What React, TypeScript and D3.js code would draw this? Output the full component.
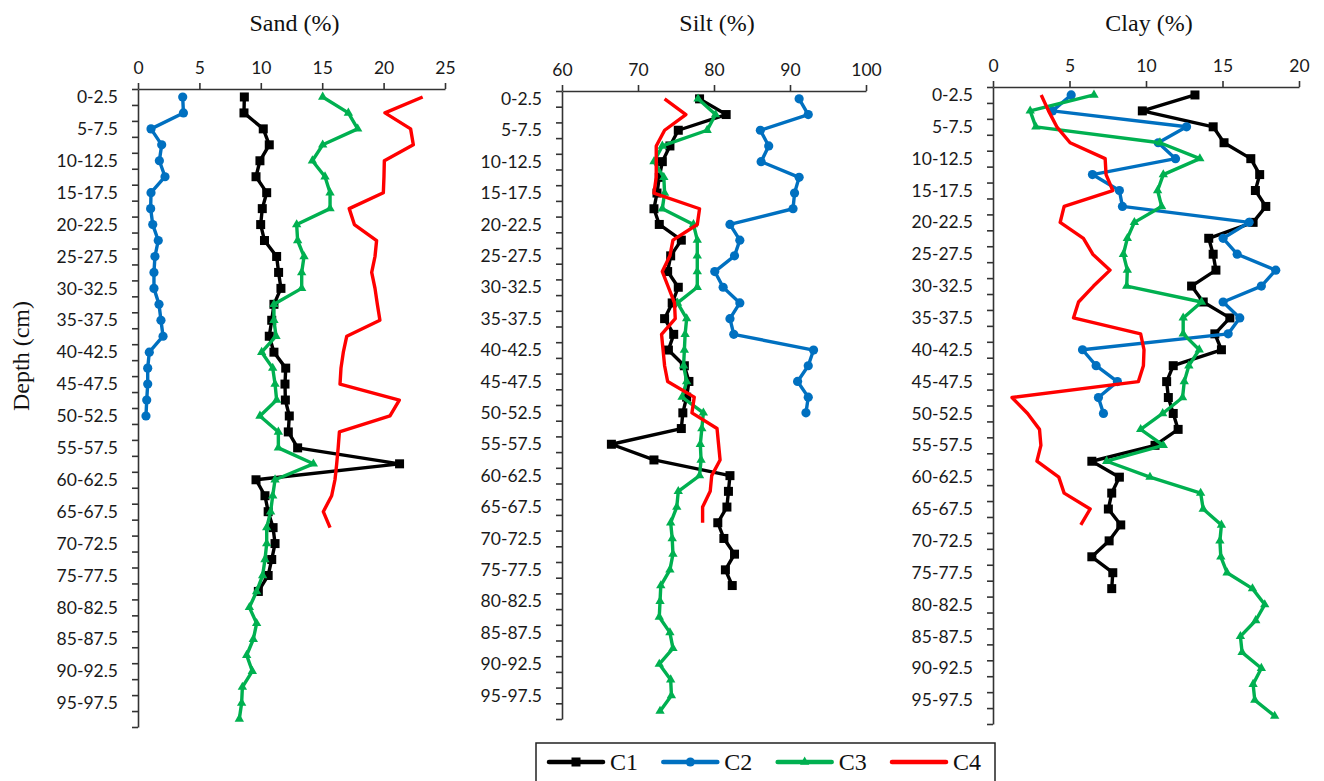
import { useEffect, useRef } from "react";
import * as d3 from "d3";

// depth intervals (cm), one per 2.5 cm sample
const depthLabels = [
  "0-2.5", "2.5-5", "5-7.5", "7.5-10", "10-12.5", "12.5-15", "15-17.5", "17.5-20",
  "20-22.5", "22.5-25", "25-27.5", "27.5-30", "30-32.5", "32.5-35", "35-37.5", "37.5-40",
  "40-42.5", "42.5-45", "45-47.5", "47.5-50", "50-52.5", "52.5-55", "55-57.5", "57.5-60",
  "60-62.5", "62.5-65", "65-67.5", "67.5-70", "70-72.5", "72.5-75", "75-77.5", "77.5-80",
  "80-82.5", "82.5-85", "85-87.5", "87.5-90", "90-92.5", "92.5-95", "95-97.5", "97.5-100",
];
const depthBounds = [0, 100];
const depthTickStep = 2.5;

const seriesNames = ["C1", "C2", "C3", "C4"];

const sandC1 = [8.66, 8.63, 10.2, 10.69, 9.93, 9.61, 10.48, 10.12, 9.99, 10.3, 11.29, 11.45, 11.64, 11.07, 10.89, 10.69, 11.07, 12.03, 11.97, 12.0, 12.32, 12.24, 13.0, 21.3, 9.61, 10.34, 10.6, 11.0, 11.16, 10.89, 10.6, 9.8];
const sandC2 = [3.64, 3.7, 1.06, 1.93, 1.74, 2.2, 1.06, 1.03, 1.2, 1.65, 1.38, 1.3, 1.3, 1.71, 1.87, 2.04, 0.92, 0.79, 0.79, 0.71, 0.65];
const sandC3 = [15.04, 17.13, 17.89, 15.04, 14.2, 15.23, 15.64, 15.64, 12.92, 13.0, 13.52, 13.33, 13.33, 11.07, 11.07, 11.24, 10.07, 10.97, 11.16, 11.29, 9.93, 11.43, 11.43, 14.28, 11.16, 10.97, 10.8, 10.48, 10.48, 10.34, 10.15, 9.66, 9.07, 9.66, 9.39, 8.85, 9.31, 8.5, 8.44, 8.25];
const sandC4 = [23.18, 20.11, 22.2, 22.42, 20.06, 20.03, 19.98, 17.2, 17.62, 19.43, 19.3, 19.03, 19.3, 19.49, 19.7, 17.0, 16.72, 16.53, 16.45, 21.28, 20.52, 16.4, 16.3, 16.18, 16.04, 15.77, 15.09, 15.64];

const siltC1 = [78.1, 81.6, 75.3, 74.2, 73.2, 72.8, 72.5, 72.1, 72.8, 75.7, 74.3, 73.9, 75.3, 74.5, 73.5, 74.7, 74.0, 76.1, 76.7, 76.4, 75.9, 75.7, 66.5, 72.1, 82.1, 81.9, 81.7, 80.5, 81.3, 82.7, 81.5, 82.4];
const siltC2 = [91.2, 92.4, 86.1, 87.2, 86.2, 91.2, 90.6, 90.4, 82.1, 83.4, 82.7, 80.1, 81.2, 83.4, 82.1, 82.6, 93.1, 92.4, 91.0, 92.4, 92.1];
const siltC3 = [77.9, 80.2, 79.1, 73.2, 72.1, 73.4, 73.5, 73.2, 77.3, 77.8, 77.8, 77.8, 77.8, 75.2, 76.4, 76.2, 76.1, 76.0, 76.4, 75.8, 78.6, 78.4, 78.2, 78.3, 78.1, 75.3, 75.1, 74.3, 74.5, 74.6, 74.2, 73.0, 72.9, 72.8, 74.2, 74.6, 72.8, 74.3, 74.4, 72.9];
const siltC4 = [73.5, 76.3, 73.5, 72.4, 72.4, 72.4, 72.1, 78.1, 77.8, 74.6, 74.2, 73.2, 74.0, 74.8, 74.9, 73.1, 73.3, 73.5, 73.9, 77.4, 77.1, 80.4, 80.6, 80.8, 79.7, 79.5, 78.5, 78.5];

const clayC1 = [13.2, 9.76, 14.39, 15.1, 16.85, 17.43, 17.15, 17.83, 17.0, 14.1, 14.39, 14.57, 12.98, 13.74, 15.48, 14.5, 14.93, 11.78, 11.35, 11.46, 11.78, 12.1, 10.59, 6.46, 8.26, 7.76, 7.54, 8.35, 7.59, 6.46, 7.83, 7.76];
const clayC2 = [5.11, 3.89, 12.65, 10.8, 11.93, 6.5, 8.26, 8.46, 16.74, 15.04, 15.96, 18.48, 17.54, 15.04, 16.13, 15.37, 5.85, 6.74, 8.13, 6.89, 7.22];
const clayC3 = [6.6, 2.43, 2.8, 10.91, 13.52, 11.13, 10.76, 11.02, 9.24, 8.78, 8.52, 8.78, 8.74, 13.63, 12.43, 12.43, 13.48, 12.8, 12.5, 12.39, 11.09, 9.65, 11.13, 7.43, 10.26, 13.57, 13.74, 14.93, 14.83, 14.89, 15.3, 16.96, 17.76, 17.17, 16.17, 16.28, 17.54, 17.0, 17.11, 18.41];
const clayC4 = [3.15, 3.63, 4.17, 5.04, 7.33, 7.39, 7.83, 4.65, 4.39, 5.91, 6.52, 7.65, 6.57, 5.59, 5.26, 9.65, 9.87, 9.83, 9.5, 1.24, 2.26, 3.04, 3.13, 2.87, 4.3, 4.65, 6.35, 5.74];

const sandTicks = [0, 5, 10, 15, 20, 25];
const siltTicks = [60, 70, 80, 90, 100];
const clayTicks = [0, 5, 10, 15, 20];

const colors = ["#000000", "#0070C0", "#00B050", "#FF0000"];
const markers = ["square", "circle", "triangle", "none"];

const panels = [
  { title: "Sand (%)", ticks: sandTicks, series: [sandC1, sandC2, sandC3, sandC4], left: 138, right: 445, top: 89, bottom: 727 },
  { title: "Silt (%)", ticks: siltTicks, series: [siltC1, siltC2, siltC3, siltC4], left: 562, right: 866, top: 91, bottom: 719 },
  { title: "Clay (%)", ticks: clayTicks, series: [clayC1, clayC2, clayC3, clayC4], left: 993, right: 1299, top: 87, bottom: 724 },
];

const labelFont = "Lato, 'Open Sans', sans-serif";
const serifFont = "'Liberation Serif', 'Times New Roman', serif";

const drawMarker = (
  g: d3.Selection<SVGGElement, unknown, null, undefined>,
  kind: string,
  x: number,
  y: number,
  color: string
) => {
  if (kind === "square") {
    g.append("rect").attr("x", x - 4.5).attr("y", y - 4.5).attr("width", 9).attr("height", 9).attr("fill", color);
  } else if (kind === "circle") {
    g.append("circle").attr("cx", x).attr("cy", y).attr("r", 4.6).attr("fill", color);
  } else if (kind === "triangle") {
    g.append("path")
      .attr("transform", `translate(${x},${y})`)
      .attr("d", d3.symbol().type(d3.symbolTriangle).size(38)())
      .attr("fill", color);
  }
};

const App = () => {
  const svgRef = useRef<SVGSVGElement | null>(null);

  useEffect(() => {
    if (!svgRef.current) return;
    const svg = d3.select(svgRef.current);
    svg.selectAll("*").remove();

    panels.forEach((p) => {
      const x = d3
        .scaleLinear()
        .domain([p.ticks[0], p.ticks[p.ticks.length - 1]])
        .range([p.left, p.right]);
      const depth = d3.scaleLinear().domain(depthBounds).range([p.top, p.bottom]);
      const band = d3.scaleBand<string>().domain(depthLabels).range([p.top, p.bottom]);
      const yc = (i: number) => band(depthLabels[i])! + band.bandwidth() / 2;

      const g = svg.append("g");

      // top value axis
      g.append("g")
        .attr("transform", `translate(0,${p.top})`)
        .call(d3.axisTop(x).tickValues(p.ticks).tickSize(6).tickPadding(9).tickSizeOuter(0))
        .call((a) => a.selectAll("text").attr("font-family", labelFont).attr("font-size", 17.5).attr("fill", "#1a1a1a"))
        .call((a) => a.selectAll("path, line").attr("stroke", "#333").attr("stroke-width", 1.6));

      // left depth axis: ticks on interval boundaries
      g.append("g")
        .attr("transform", `translate(${p.left},0)`)
        .call(
          d3.axisLeft(depth)
            .tickValues(d3.range(depthBounds[0], depthBounds[1] + 0.01, depthTickStep))
            .tickFormat(() => "")
            .tickSize(6)
            .tickSizeOuter(0)
        )
        .call((a) => a.selectAll("path, line").attr("stroke", "#333").attr("stroke-width", 1.6));

      // depth labels on every other interval
      g.append("g")
        .selectAll("text")
        .data(depthLabels.filter((_, i) => i % 2 === 0))
        .join("text")
        .attr("x", p.left - 20)
        .attr("y", (d) => band(d)! + band.bandwidth() / 2)
        .attr("dy", "0.35em")
        .attr("text-anchor", "end")
        .attr("font-family", labelFont)
        .attr("font-size", 17.5)
        .attr("fill", "#1a1a1a")
        .text((d) => d);

      g.append("text")
        .attr("x", (p.left + p.right) / 2 + 3)
        .attr("y", 31)
        .attr("text-anchor", "middle")
        .attr("font-family", serifFont)
        .attr("font-size", 24)
        .attr("fill", "#111")
        .text(p.title);

      p.series.forEach((values, s) => {
        const line = d3
          .line<number>()
          .x((d) => x(d))
          .y((_, i) => yc(i));
        g.append("path")
          .datum(values)
          .attr("fill", "none")
          .attr("stroke", colors[s])
          .attr("stroke-width", 3.4)
          .attr("stroke-linejoin", "round")
          .attr("d", line);
        const mg = g.append("g");
        values.forEach((v, i) => drawMarker(mg, markers[s], x(v), yc(i), colors[s]));
      });
    });

    // y axis title
    svg
      .append("text")
      .attr("transform", "translate(29,356) rotate(-90)")
      .attr("text-anchor", "middle")
      .attr("font-family", serifFont)
      .attr("font-size", 24)
      .attr("fill", "#111")
      .text("Depth (cm)");

    // legend
    const legend = svg.append("g");
    legend
      .append("rect")
      .attr("x", 536)
      .attr("y", 743)
      .attr("width", 459)
      .attr("height", 60)
      .attr("fill", "#fff")
      .attr("stroke", "#222")
      .attr("stroke-width", 1.5);
    const legendX = d3.scalePoint<string>().domain(seriesNames).range([549, 892]);
    seriesNames.forEach((name, s) => {
      const lx = legendX(name)!;
      legend
        .append("line")
        .attr("x1", lx)
        .attr("x2", lx + 54)
        .attr("y1", 762)
        .attr("y2", 762)
        .attr("stroke", colors[s])
        .attr("stroke-width", 4.5)
        .attr("stroke-linecap", "round");
      drawMarker(legend, markers[s], lx + 27, 762, colors[s]);
      legend
        .append("text")
        .attr("x", lx + 61)
        .attr("y", 770)
        .attr("font-family", serifFont)
        .attr("font-size", 24)
        .attr("fill", "#111")
        .text(name);
    });
  }, []);

  return (
    <svg
      ref={svgRef}
      width={1324}
      height={781}
      style={{ position: "absolute", left: 0, top: 0, background: "#fff" }}
    />
  );
};

export default App;
